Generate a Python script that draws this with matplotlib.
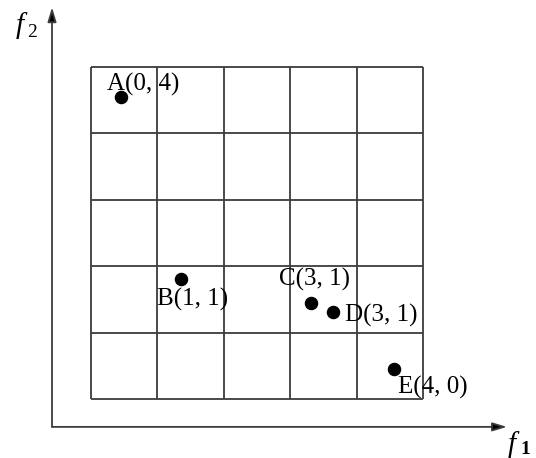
import matplotlib
matplotlib.use("Agg")
import matplotlib.pyplot as plt

# ---- data ----
n_cells = 5
labels = ["A", "B", "C", "D", "E"]
cell_f1 = [0, 1, 3, 3, 4]
cell_f2 = [4, 1, 1, 1, 0]
pos_f1 = [0.45, 1.36, 3.31, 3.64, 4.56]
pos_f2 = [4.55, 1.81, 1.45, 1.31, 0.45]

fig = plt.figure(figsize=(5.36, 4.58), dpi=100)
ax = fig.add_axes([0, 0, 1, 1])
ax.axis('off')
cell = 66.4
ax.set_xlim(-91 / cell, (536 - 91) / cell)
ax.set_ylim((399 - 458) / cell, 399 / cell)

gc = '#3c3c3c'
# grid
for i in range(n_cells + 1):
    ax.plot([i, i], [0, n_cells], color=gc, lw=1.3, solid_capstyle='butt')
    ax.plot([0, n_cells], [i, i], color=gc, lw=1.3, solid_capstyle='butt')

# axes with arrows
ox, oy = -0.587, -0.42
xtip, ytip = 6.265, 5.90
ap = dict(arrowstyle='-|>,head_length=0.86,head_width=0.26', color=gc, lw=1.3,
          shrinkA=0, shrinkB=0, mutation_scale=10, fc='black')
ax.annotate('', xy=(xtip, oy), xytext=(ox, oy), arrowprops=ap)
ax.annotate('', xy=(ox, ytip), xytext=(ox, oy), arrowprops=ap)

serif = 'Liberation Serif'
# axis names: italic f with subscript
ax.annotate('f', xy=(ox, ytip), xytext=(-36, -26), textcoords='offset pixels',
            ha='left', va='baseline', fontsize=21, style='italic', family=serif)
ax.annotate('2', xy=(ox, ytip), xytext=(-25, -30), textcoords='offset pixels',
            ha='left', va='baseline', fontsize=14, family=serif)
ax.annotate('f', xy=(xtip, oy), xytext=(1, -25), textcoords='offset pixels',
            ha='left', va='baseline', fontsize=21, style='italic', family=serif)
ax.annotate('1', xy=(xtip, oy), xytext=(13, -27), textcoords='offset pixels',
            ha='left', va='baseline', fontsize=14, family=serif, fontweight='bold')

# points
ax.plot(pos_f1, pos_f2, 'o', color='black', ms=8.7, ls='none')

offsets = [(-14, 12), (-24, -21), (-32, 23), (12, -3), (4, -18)]
for lab, cx, cy, x, y, off in zip(labels, cell_f1, cell_f2, pos_f1, pos_f2, offsets):
    ax.annotate(f"{lab}({cx}, {cy})", xy=(x, y), xytext=off, textcoords='offset pixels',
                ha='left', va='center', fontsize=18, family=serif, color='black')

fig.savefig('out.png', dpi=100)
